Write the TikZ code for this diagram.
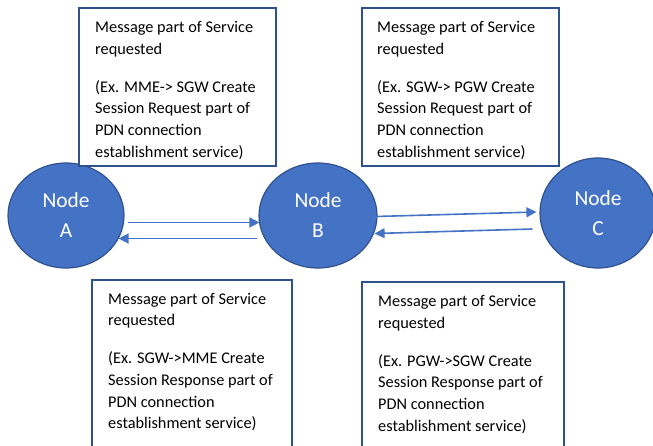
\documentclass[tikz,border=0pt]{standalone}
\usepackage{fontspec}
\setmainfont{Carlito}
\usetikzlibrary{arrows.meta,shapes.geometric}
\definecolor{nodeblue}{HTML}{4472C4}
\definecolor{edgeblue}{HTML}{2F528F}
\tikzset{
  peer/.style={ellipse, fill=nodeblue, draw=edgeblue, line width=1.2pt,
    text=white, align=center, font=\fontsize{21.4}{30}\selectfont, inner sep=0pt},
  msgbox/.style={draw=edgeblue, line width=1.5pt, fill=white, anchor=north west, inner sep=0pt},
  msgtext/.style={anchor=base west, align=left, inner sep=0pt,
    font=\fontsize{16.3}{21.7}\selectfont},
  msgarrow/.style={draw=nodeblue, line width=1.6pt,
    -{Triangle[length=10pt,width=10pt]}}
}
\begin{document}
\begin{tikzpicture}[x=1pt,y=-1pt]
\useasboundingbox (0,0) rectangle (653,445);
\clip (0,0) rectangle (653,445);

% the three peers
\node[peer, minimum width=116pt, minimum height=105pt] (A) at (66,215.5) {Node\\A};
\node[peer, minimum width=118pt, minimum height=105pt] (B) at (318,215.5) {Node\\B};
\node[peer, minimum width=116pt, minimum height=110pt] (C) at (598,213) {Node\\C};

% messages between the peers
\draw[msgarrow] ([xshift=3pt,yshift=-7pt]A.east) -- ([xshift=1pt,yshift=-7pt]B.west);
\draw[msgarrow] ([xshift=-1pt,yshift=-23pt]B.west) -- ([xshift=-6pt,yshift=-23pt]A.east);
\draw[msgarrow] ([xshift=-2pt,yshift=-1pt]B.east) -- ([xshift=-3pt,yshift=1pt]C.west);
\draw[msgarrow] ([xshift=-7pt,yshift=-16pt]C.west) -- ([xshift=-3pt,yshift=-18pt]B.east);

% request boxes (top); text anchored on the baseline of its last line
\node[msgbox, minimum width=197pt, minimum height=158pt] (r1) at (78,7) {};
\node[msgtext] (t1) at ([xshift=17pt,yshift=-150.3pt]r1.north west)
  {Message part of Service\\requested\\[16.3pt](Ex. MME-> SGW Create\\Session Request part of\\PDN connection\\establishment service)};
\node[msgbox, minimum width=197pt, minimum height=158pt] (r2) at (361,7) {};
\node[msgtext] (t2) at ([xshift=16pt,yshift=-150.3pt]r2.north west)
  {Message part of Service\\requested\\[16.3pt](Ex. SGW-> PGW Create\\Session Request part of\\PDN connection\\establishment service)};

% response boxes (bottom)
\node[msgbox, minimum width=200pt, minimum height=190pt] (r3) at (91,279) {};
\node[msgtext] (t3) at ([xshift=17pt,yshift=-149.8pt]r3.north west)
  {Message part of Service\\requested\\[16.3pt](Ex. SGW->MME Create\\Session Response part of\\PDN connection\\establishment service)};
\node[msgbox, minimum width=202pt, minimum height=190pt] (r4) at (361,281) {};
\node[msgtext] (t4) at ([xshift=17pt,yshift=-150.3pt]r4.north west)
  {Message part of Service\\requested\\[16.3pt](Ex. PGW->SGW Create\\Session Response part of\\PDN connection\\establishment service)};
\end{tikzpicture}
\end{document}
